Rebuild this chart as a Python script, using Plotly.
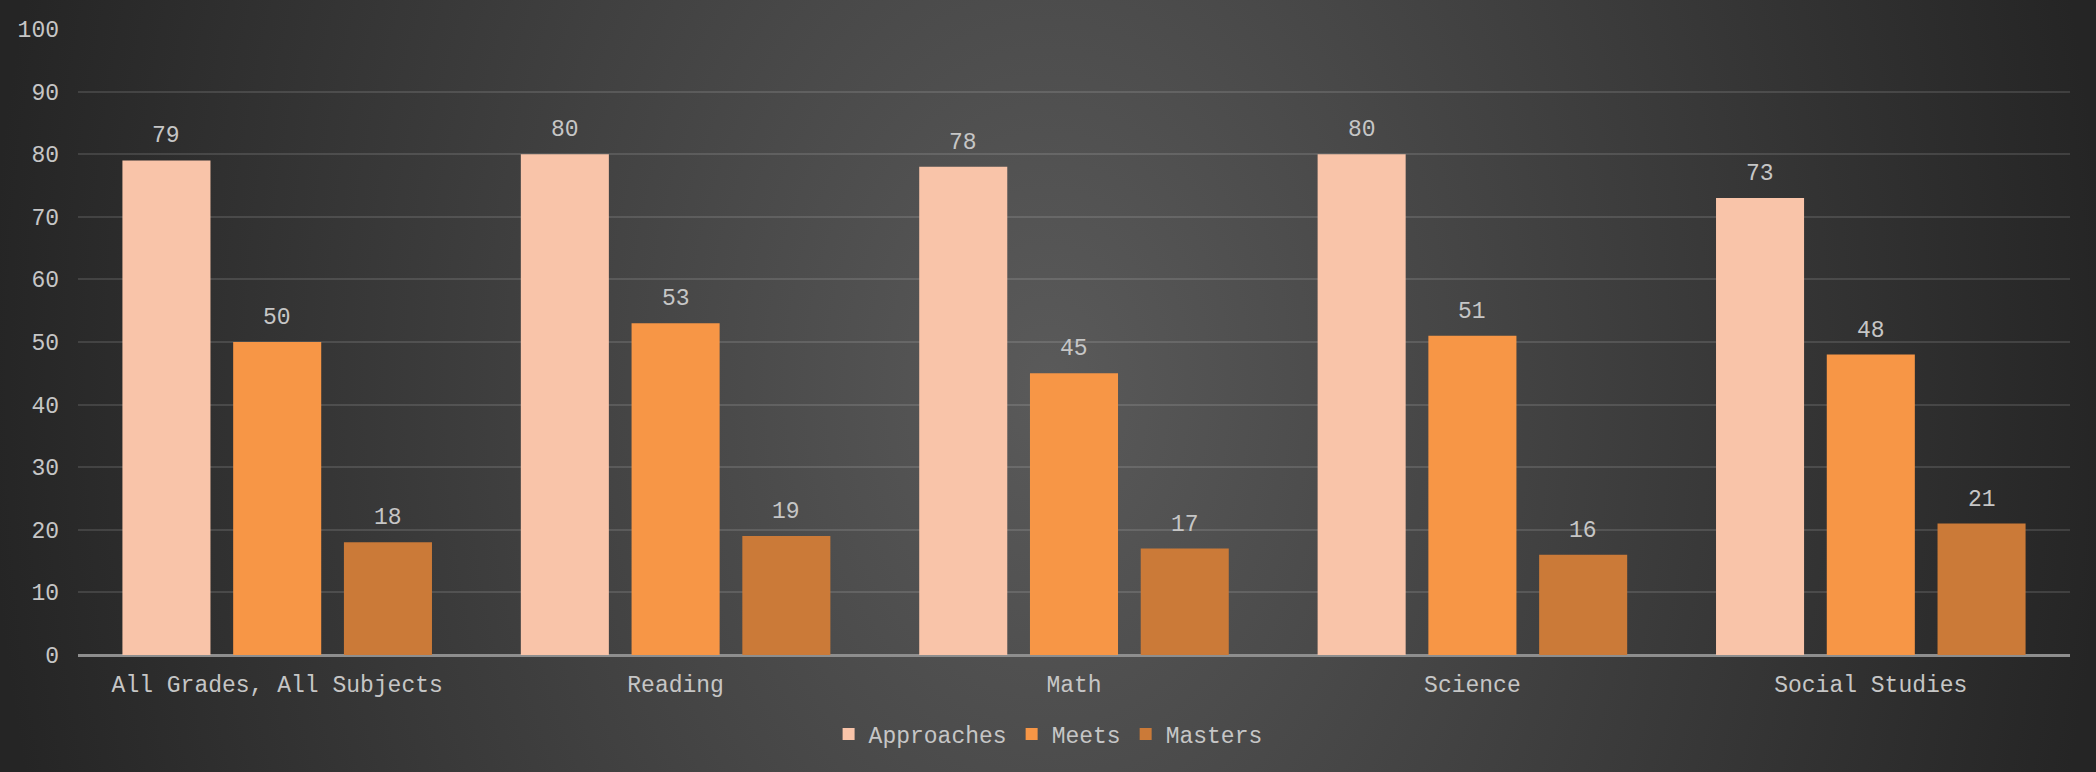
import base64
import plotly.graph_objects as go

categories = ["All Grades, All Subjects", "Reading", "Math", "Science", "Social Studies"]
approaches = [79, 80, 78, 80, 73]
meets = [50, 53, 45, 51, 48]
masters = [18, 19, 17, 16, 21]
series_names = ["Approaches", "Meets", "Masters"]
series_values = [approaches, meets, masters]
series_colors = ["#F9C4A9", "#F79646", "#CB7A38"]
y_ticks = list(range(0, 101, 10))

W, H = 2096, 772
ML, MR, MT, MB = 78, 26, 29, 117
BARGAP = 0.166
BARGROUPGAP = 0.205
FONT = "Liberation Mono, Courier New, monospace"
TXT = "#C6C6C6"

svg = f'''<svg xmlns="http://www.w3.org/2000/svg" width="{W}" height="{H}" viewBox="0 0 {W} {H}" preserveAspectRatio="none">
<defs><radialGradient id="g" gradientUnits="userSpaceOnUse" cx="1048" cy="386" r="1060"
 gradientTransform="translate(1048 386) scale(1 1.4) translate(-1048 -386)">
<stop offset="0" stop-color="#5a5a5a"/><stop offset="1" stop-color="#252525"/></radialGradient></defs>
<rect x="0" y="0" width="{W}" height="{H}" fill="url(#g)"/></svg>'''
bg_uri = "data:image/svg+xml;base64," + base64.b64encode(svg.encode()).decode()

fig = go.Figure()
for name, vals, col in zip(series_names, series_values, series_colors):
    fig.add_trace(go.Bar(
        name=name, x=categories, y=vals,
        marker=dict(color=col, line=dict(width=0)),
    ))

# data labels above bars
slot = (1 - BARGAP) / len(series_names)
annotations = []
for j, vals in enumerate(series_values):
    off = (j - (len(series_names) - 1) / 2) * slot
    for i, v in enumerate(vals):
        annotations.append(dict(
            x=i + off, y=v, xref="x", yref="y", text=str(v), showarrow=False,
            yanchor="bottom", yshift=9, font=dict(family=FONT, size=23, color=TXT),
        ))

pw = W - ML - MR
ph = H - MT - MB
fig.update_layout(
    width=W, height=H,
    margin=dict(l=ML, r=MR, t=MT, b=MB, pad=0),
    paper_bgcolor="#3a3a3a",
    plot_bgcolor="rgba(0,0,0,0)",
    barmode="group", bargap=BARGAP, bargroupgap=BARGROUPGAP,
    font=dict(family=FONT, size=23, color=TXT),
    annotations=annotations,
    images=[dict(
        source=bg_uri, xref="paper", yref="paper",
        x=-ML / pw, y=1 + MT / ph, sizex=W / pw, sizey=H / ph,
        xanchor="left", yanchor="top", sizing="stretch", layer="below",
    )],
    legend=dict(
        orientation="h", x=0.487, xanchor="center", y=-(734 - (H - MB)) / ph, yanchor="middle",
        font=dict(family=FONT, size=23, color=TXT), itemwidth=30,
        bgcolor="rgba(0,0,0,0)",
    ),
    xaxis=dict(
        showgrid=False, showline=False, zeroline=False, ticks="",
        tickfont=dict(family=FONT, size=23, color=TXT), ticklabelstandoff=13,
    ),
    yaxis=dict(
        range=[0, 100], tickvals=y_ticks, showgrid=True,
        gridcolor="rgba(255,255,255,0.12)", gridwidth=1.5,
        zeroline=True, zerolinecolor="#8E8E8E", zerolinewidth=2.5,
        showline=False, ticks="", ticklabelstandoff=18,
        tickfont=dict(family=FONT, size=23, color=TXT),
    ),
    showlegend=True,
)

fig.write_html("out.html", config={"displayModeBar": False},
               post_script="document.body.style.margin='0';document.body.style.overflow='hidden';")
